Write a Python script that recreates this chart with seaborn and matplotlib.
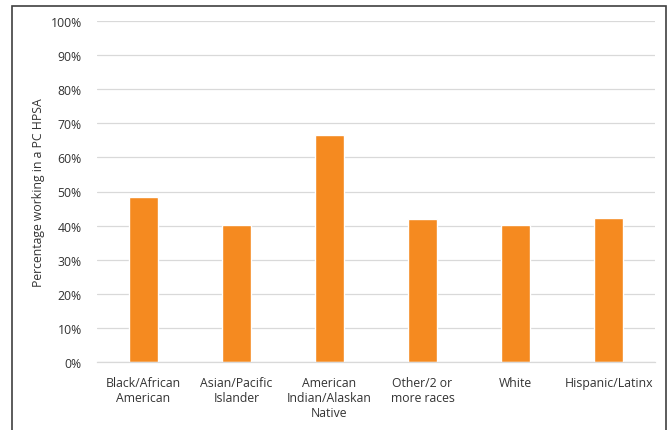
import seaborn as sns
import pandas as pd
import matplotlib.pyplot as plt
from matplotlib.patches import Rectangle
from matplotlib.ticker import PercentFormatter

groups = ["Black/African\nAmerican", "Asian/Pacific\nIslander", "American\nIndian/Alaskan\nNative",
          "Other/2 or\nmore races", "White", "Hispanic/Latinx"]
pct_hpsa = [48.5, 40.3, 66.7, 41.8, 40.2, 42.3]

df = pd.DataFrame({"group": groups, "pct": pct_hpsa})

sns.set_style("white")
plt.rcParams['font.family'] = ['Open Sans', 'DejaVu Sans']

fig = plt.figure(figsize=(6.69, 4.31), dpi=100)
ax = fig.add_axes([97 / 669, 1 - 363 / 431, 558 / 669, 341 / 431])

sns.barplot(data=df, x="group", y="pct", color="#F58A20", saturation=1, width=0.31, ax=ax)

ax.set_ylim(0, 100)
ax.set_yticks(range(0, 101, 10))
ax.yaxis.set_major_formatter(PercentFormatter(decimals=0))
ax.grid(axis="y", color="#D9D9D9", linewidth=0.9)
ax.set_axisbelow(True)
for s in ["top", "right", "left"]:
    ax.spines[s].set_visible(False)
ax.spines["bottom"].set_color("#D9D9D9")
ax.spines["bottom"].set_linewidth(0.9)
ax.tick_params(axis="both", length=0, labelsize=8.8, colors="#333333")
ax.tick_params(axis="y", pad=11)
ax.tick_params(axis="x", pad=10)
ax.set_xlabel("")
ax.set_ylabel("Percentage working in a PC HPSA", fontsize=8.8, color="#333333", labelpad=4)

# outer frame
fig.patches.append(Rectangle((12 / 669, -0.05), 654 / 669, 1.05 - 7 / 431, transform=fig.transFigure,
                             fill=False, edgecolor="#404040", linewidth=1.2))

fig.savefig("out.png", dpi=100)
